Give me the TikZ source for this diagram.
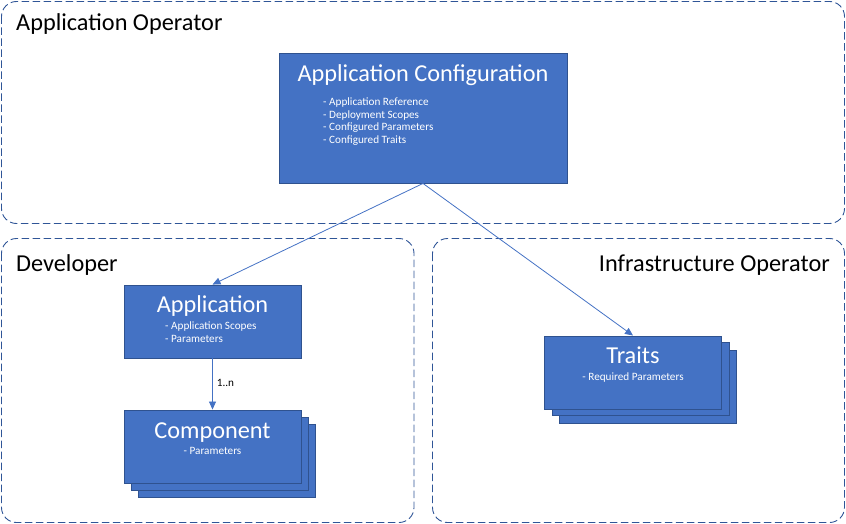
\documentclass[tikz,border=0pt]{standalone}
\usepackage{fontspec}
\setmainfont{Carlito}
\usetikzlibrary{arrows.meta}
\definecolor{boxfill}{HTML}{4472C4}
\definecolor{boxline}{HTML}{2F528F}
\definecolor{grpline}{HTML}{2F5597}
\definecolor{arrowc}{HTML}{4472C4}
\tikzset{
  grp/.style={draw=grpline, line width=0.9pt, dash pattern=on 7.5pt off 3.5pt, rounded corners=15pt},
  blue box/.style={draw=boxline, fill=boxfill, line width=0.9pt},
  grp title/.style={anchor=base west, inner sep=0pt, font=\fontsize{24.3}{28}\selectfont, text=black},
  box title/.style={anchor=base, inner sep=0pt, font=\fontsize{24.3}{28}\selectfont, text=white},
  box item/.style={anchor=base west, inner sep=0pt, font=\fontsize{11.2}{13}\selectfont, text=white},
  box itemc/.style={anchor=base, inner sep=0pt, font=\fontsize{11.2}{13}\selectfont, text=white},
  conn/.style={draw=arrowc, line width=0.8pt, -{Triangle[length=8pt,width=7pt]}},
}
\begin{document}
\begin{tikzpicture}[x=1pt,y=-1pt]
\useasboundingbox (0,0) rectangle (846,524);
% groups
\draw[grp] (1.5,1.5) rectangle (844.5,223.5);
\draw[grp] (1.5,238.5) rectangle (414,522.5);
\draw[grp] (432.5,238.5) rectangle (844.5,522.5);
\node[grp title] (gao) at (16,30.5) {Application Operator};
\node[grp title] (gdev) at (16,271.5) {Developer};
\node[grp title, anchor=base east] (ginf) at (830,271.5) {Infrastructure Operator};
% Application Configuration
\node[blue box, minimum width=288pt, minimum height=130pt, inner sep=0pt] (ac) at (423,118) {};
\node[box title] (act) at (423,81.5) {Application Configuration};
\node[box item] (ac1) at (323,106) {- Application Reference};
\node[box item] (ac2) at (323,118.5) {- Deployment Scopes};
\node[box item] (ac3) at (323,131) {- Configured Parameters};
\node[box item] (ac4) at (323,143.5) {- Configured Traits};
% Application
\node[blue box, minimum width=177pt, minimum height=73pt, inner sep=0pt] (app) at (212.5,321.5) {};
\node[box title] (appt) at (212.5,312.5) {Application};
\node[box item] (app1) at (165,329.5) {- Application Scopes};
\node[box item] (app2) at (165,342.5) {- Parameters};
% Component stack
\node[blue box, minimum width=177pt, minimum height=73pt, inner sep=0pt] (comp3) at (227,460.5) {};
\node[blue box, minimum width=177pt, minimum height=73pt, inner sep=0pt] (comp2) at (220,453.5) {};
\node[blue box, minimum width=177pt, minimum height=73pt, inner sep=0pt] (comp) at (212.5,446.5) {};
\node[box title] (compt) at (212.5,438) {Component};
\node[box itemc] (comp1) at (212.5,454) {- Parameters};
% Traits stack
\node[blue box, minimum width=177pt, minimum height=73pt, inner sep=0pt] (tr3) at (647.5,386.5) {};
\node[blue box, minimum width=177pt, minimum height=73pt, inner sep=0pt] (tr2) at (640.5,379) {};
\node[blue box, minimum width=177pt, minimum height=73pt, inner sep=0pt] (tr) at (633,372.5) {};
\node[box title] (trt) at (633,363.5) {Traits};
\node[box itemc] (tr1) at (633,380) {- Required Parameters};
% connectors
\coordinate (acb) at (ac.south);
\draw[conn] (acb) -- (app.north);
\draw[conn] (acb) -- (tr.north);
\draw[conn] (app.south) -- node[right, pos=0.5, inner sep=0pt, xshift=4pt, yshift=1pt, font=\fontsize{11.2}{13}\selectfont, text=black] (lbl) {1..n} (comp.north);
\end{tikzpicture}
\end{document}
